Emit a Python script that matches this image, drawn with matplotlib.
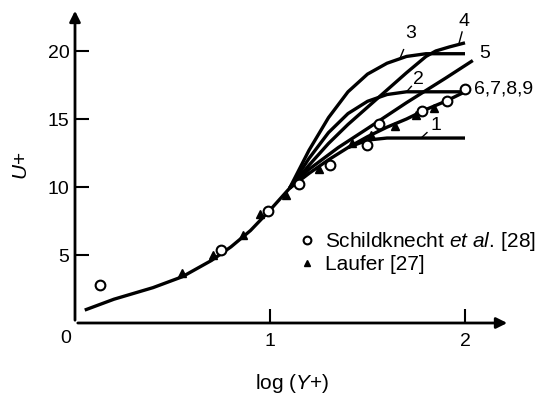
import matplotlib
matplotlib.use("Agg")
import matplotlib.pyplot as plt

plt.rcParams['font.family'] = ['Liberation Sans', 'DejaVu Sans']
plt.rcParams['mathtext.fontset'] = 'custom'
plt.rcParams['mathtext.rm'] = 'Liberation Sans'
plt.rcParams['mathtext.it'] = 'Liberation Sans:italic'

# shared wall region curve
base_x = [0.05, 0.2, 0.4, 0.55, 0.7, 0.8, 0.9, 1.0, 1.1]
base_y = [0.95, 1.75, 2.6, 3.4, 4.6, 5.6, 6.8, 8.3, 9.9]

# model curves beyond the wall region
c69_x = [1.1, 1.2, 1.3, 1.4, 1.5, 1.6, 1.7, 1.8, 1.9, 2.0]
c69_y = [9.9, 11.0, 12.0, 12.9, 13.7, 14.4, 15.0, 15.7, 16.3, 17.0]
c1_x = [1.4, 1.5, 1.6, 2.0]
c1_y = [12.9, 13.45, 13.6, 13.6]
c2_x = [1.1, 1.2, 1.3, 1.4, 1.5, 1.6, 1.7, 2.0]
c2_y = [9.9, 12.1, 14.0, 15.4, 16.3, 16.8, 17.0, 17.0]
c3_x = [1.1, 1.2, 1.3, 1.4, 1.5, 1.6, 1.7, 1.8, 1.9, 2.0]
c3_y = [9.9, 12.7, 15.1, 17.0, 18.3, 19.1, 19.6, 19.8, 19.8, 19.8]
c4_x = [1.1, 1.2, 1.3, 1.4, 1.55, 1.7, 1.8, 1.85, 1.92, 2.0]
c4_y = [9.9, 11.6, 13.2, 14.6, 16.5, 18.4, 19.6, 20.0, 20.3, 20.6]
c5_x = [1.1, 1.2, 1.35, 1.5, 1.7, 1.9, 2.04]
c5_y = [9.9, 11.3, 12.9, 14.3, 16.2, 18.0, 19.3]

# measurements
schild_x = [0.13, 0.75, 0.99, 1.15, 1.31, 1.50, 1.56, 1.78, 1.91, 2.0]
schild_y = [2.8, 5.4, 8.2, 10.2, 11.6, 13.1, 14.6, 15.6, 16.3, 17.2]
laufer_x = [0.55, 0.71, 0.86, 0.95, 1.08, 1.25, 1.42, 1.52, 1.64, 1.75, 1.84]
laufer_y = [3.7, 5.0, 6.5, 8.0, 9.4, 11.3, 13.2, 13.8, 14.5, 15.3, 15.8]

fig = plt.figure(figsize=(5.52, 3.99), dpi=100)
ax = fig.add_axes([75/552, 76/399, 435/552, 315/399])
ax.set_xlim(0, 435/195)
ax.set_ylim(0, 315/13.6)

lw = 2.4
curves = [(base_x, base_y), (c69_x, c69_y), (c1_x, c1_y), (c2_x, c2_y),
          (c3_x, c3_y), (c4_x, c4_y), (c5_x, c5_y)]
for cx, cy in curves:
    ax.plot(cx, cy, color='black', lw=lw, solid_capstyle='butt')

ax.plot(schild_x, schild_y, 'o', mfc='white', mec='black', mew=1.5, ms=7,
        label='Schildknecht $\\mathit{et\\ al.}\\,$[28]', zorder=5)
ax.plot(laufer_x, laufer_y, '^', color='black', ms=6,
        label='Laufer [27]', zorder=5)

# curve labels with leader ticks
fs = 14
ax.text(1.72, 21.3, '3', fontsize=fs, ha='center', va='center')
ax.plot([1.685, 1.665], [20.1, 19.4], color='black', lw=1)
ax.text(1.995, 22.2, '4', fontsize=fs, ha='center', va='center')
ax.plot([1.985, 1.97], [21.4, 20.6], color='black', lw=1)
ax.text(1.76, 17.9, '2', fontsize=fs, ha='center', va='center')
ax.plot([1.725, 1.70], [17.4, 17.0], color='black', lw=1)
ax.text(1.85, 14.5, '1', fontsize=fs, ha='center', va='center')
ax.plot([1.805, 1.775], [14.0, 13.6], color='black', lw=1)
ax.text(2.10, 19.8, '5', fontsize=fs, ha='center', va='center')
ax.text(2.045, 17.2, '6,7,8,9', fontsize=fs, ha='left', va='center')

# axes with arrows
for s in ax.spines.values():
    s.set_visible(False)
ax.annotate('', xy=(0, 1), xytext=(0, 0), xycoords='axes fraction',
            arrowprops=dict(arrowstyle='-|>', lw=2, color='black', mutation_scale=16))
ax.annotate('', xy=(1, 0), xytext=(0, 0), xycoords='axes fraction',
            arrowprops=dict(arrowstyle='-|>', lw=2, color='black', mutation_scale=16))

ax.set_xticks([1, 2])
ax.set_yticks([5, 10, 15, 20])
ax.tick_params(direction='in', length=10, width=1.5, labelsize=fs, pad=4)
ax.tick_params(axis='x', pad=7)
ax.text(-0.05, -0.5, '0', fontsize=fs, ha='center', va='top')

ax.set_xlabel('log ($\\mathit{Y}$+)', fontsize=15, labelpad=16)
ax.set_ylabel('$\\mathit{U}$+', fontsize=15, labelpad=12)

ax.legend(loc='upper left', bbox_to_anchor=(290/552, 1 - 222/399),
          bbox_transform=fig.transFigure, frameon=False, fontsize=15,
          handlelength=0.8, handletextpad=0.5, borderaxespad=0,
          labelspacing=0.1, markerscale=0.8)

fig.savefig('out.png', dpi=100)
